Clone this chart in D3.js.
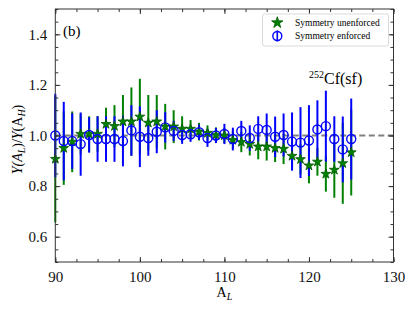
<!DOCTYPE html>
<html>
<head>
<meta charset="utf-8">
<script src="https://cdn.jsdelivr.net/npm/d3@7"></script>
<style>
  body { margin: 0; background: #fff; }
  text { font-family: "Liberation Serif", "Times New Roman", serif; }
</style>
</head>
<body>
<script>
// data
const massL = [90, 91, 92, 93, 94, 95, 96, 97, 98, 99, 100, 101, 102, 103, 104, 105, 106, 107,
  108, 109, 110, 111, 112, 113, 114, 115, 116, 117, 118, 119, 120, 121, 122, 123, 124, 125];

// Symmetry unenforced (green stars)
const unenfY = [0.907, 0.95, 0.975, 1.006, 1.006, 1.006, 1.045, 1.037, 1.055, 1.055, 1.074, 1.05,
  1.055, 1.035, 1.035, 1.026, 1.026, 1.015, 1.01, 1.002, 1.0, 0.982, 0.974, 0.966, 0.956, 0.956,
  0.95, 0.947, 0.919, 0.906, 0.881, 0.896, 0.848, 0.864, 0.89, 0.933];
const unenfErr = [0.25, 0.145, 0.12, 0.08, 0.07, 0.07, 0.065, 0.083, 0.105, 0.135, 0.15, 0.11,
  0.105, 0.09, 0.065, 0.05, 0.035, 0.035, 0.03, 0.03, 0.03, 0.035, 0.04, 0.045, 0.05, 0.055,
  0.055, 0.06, 0.055, 0.06, 0.07, 0.055, 0.07, 0.11, 0.16, 0.17];

// Symmetry enforced (blue circles)
const enfY = [1.0, 0.978, 0.978, 0.966, 1.002, 0.986, 0.986, 0.986, 0.978, 1.02, 0.995, 0.99,
  1.015, 1.032, 1.018, 1.002, 1.005, 1.013, 0.99, 1.0, 1.006, 0.986, 1.018, 0.99, 1.026, 1.022,
  0.995, 1.002, 0.976, 0.972, 0.98, 1.024, 1.037, 0.986, 0.945, 0.986];
const enfErr = [0.165, 0.155, 0.11, 0.125, 0.07, 0.09, 0.09, 0.09, 0.1, 0.1, 0.12, 0.07,
  0.085, 0.06, 0.04, 0.035, 0.03, 0.03, 0.035, 0.03, 0.04, 0.045, 0.04, 0.05, 0.05, 0.065,
  0.08, 0.085, 0.115, 0.14, 0.14, 0.115, 0.14, 0.09, 0.13, 0.16];

const xTicks = [90, 100, 110, 120, 130];
const yTicks = [0.6, 0.8, 1.0, 1.2, 1.4];
const legendNames = ["Symmetry unenforced", "Symmetry enforced"];

const width = 415, height = 312;
const mLeft = 55.3, mRight = 393.5, mTop = 9, mBottom = 262;
const green = "#008000", blue = "#0000ff";

const svg = d3.select("body").append("svg")
  .attr("width", width)
  .attr("height", height);

const x = d3.scaleLinear().domain([90, 130]).range([mLeft, mRight]);
const y = d3.scaleLinear().domain([0.5, 1.5]).range([mBottom, mTop]);

const minorX = d3.range(90, 130.01, 2.5);
const minorY = d3.range(0.5, 1.501, 0.05);

// dashed reference line at 1
svg.append("line")
  .attr("x1", x(90)).attr("x2", x(130))
  .attr("y1", y(1)).attr("y2", y(1))
  .attr("stroke", "#808080")
  .attr("stroke-width", 2)
  .attr("stroke-dasharray", "6,3.5");

const rows = massL.map((a, i) => ({a, gy: unenfY[i], ge: unenfErr[i], by: enfY[i], be: enfErr[i]}));

// error bars: green first, blue over it
svg.append("g").selectAll("line").data(rows).join("line")
  .attr("x1", d => x(d.a)).attr("x2", d => x(d.a))
  .attr("y1", d => y(d.gy - d.ge)).attr("y2", d => y(d.gy + d.ge))
  .attr("stroke", green).attr("stroke-width", 2);

svg.append("g").selectAll("line").data(rows).join("line")
  .attr("x1", d => x(d.a)).attr("x2", d => x(d.a))
  .attr("y1", d => y(d.by - d.be)).attr("y2", d => y(d.by + d.be))
  .attr("stroke", blue).attr("stroke-width", 2);

const star = d3.symbol().type(d3.symbolStar).size(30);

svg.append("g").selectAll("path").data(rows).join("path")
  .attr("d", star)
  .attr("transform", d => `translate(${x(d.a)},${y(d.gy)})`)
  .attr("fill", green)
  .attr("stroke", "#005a00")
  .attr("stroke-width", 0.8);

svg.append("g").selectAll("circle").data(rows).join("circle")
  .attr("cx", d => x(d.a)).attr("cy", d => y(d.by))
  .attr("r", 4.5)
  .attr("fill", "none")
  .attr("stroke", blue)
  .attr("stroke-width", 1.4);

// axes, ticks inward on all four sides
const axisColor = "#333";
const styleAxis = g => {
  g.select(".domain").remove();
  g.selectAll("line").attr("stroke", axisColor);
  g.selectAll("text").attr("font-size", 15).attr("fill", "#111")
    .attr("font-family", "Liberation Serif, serif");
};

svg.append("g").attr("transform", `translate(0,${mBottom})`)
  .call(d3.axisBottom(x).tickValues(xTicks).tickSize(-5).tickPadding(9).tickFormat(d3.format("d")))
  .call(styleAxis);
svg.append("g").attr("transform", `translate(0,${mBottom})`)
  .call(d3.axisBottom(x).tickValues(minorX).tickSize(-3).tickFormat(""))
  .call(styleAxis);
svg.append("g").attr("transform", `translate(0,${mTop})`)
  .call(d3.axisTop(x).tickValues(xTicks).tickSize(-5).tickFormat(""))
  .call(styleAxis);
svg.append("g").attr("transform", `translate(0,${mTop})`)
  .call(d3.axisTop(x).tickValues(minorX).tickSize(-3).tickFormat(""))
  .call(styleAxis);

svg.append("g").attr("transform", `translate(${mLeft},0)`)
  .call(d3.axisLeft(y).tickValues(yTicks).tickSize(-5).tickPadding(8).tickFormat(d3.format(".1f")))
  .call(styleAxis);
svg.append("g").attr("transform", `translate(${mLeft},0)`)
  .call(d3.axisLeft(y).tickValues(minorY).tickSize(-3).tickFormat(""))
  .call(styleAxis);
svg.append("g").attr("transform", `translate(${mRight},0)`)
  .call(d3.axisRight(y).tickValues(yTicks).tickSize(-5).tickFormat(""))
  .call(styleAxis);
svg.append("g").attr("transform", `translate(${mRight},0)`)
  .call(d3.axisRight(y).tickValues(minorY).tickSize(-3).tickFormat(""))
  .call(styleAxis);

// frame
svg.append("rect")
  .attr("x", mLeft).attr("y", mTop)
  .attr("width", mRight - mLeft).attr("height", mBottom - mTop)
  .attr("fill", "none")
  .attr("stroke", axisColor)
  .attr("stroke-width", 1);

// axis labels
const xl = svg.append("text")
  .attr("x", (mLeft + mRight) / 2).attr("y", 297)
  .attr("text-anchor", "middle")
  .attr("font-size", 14);
xl.append("tspan").text("A");
xl.append("tspan").text("L").attr("font-style", "italic").attr("font-size", 10).attr("dy", 3);

const yl = svg.append("text")
  .attr("transform", `translate(22,${(mTop + mBottom) / 2 + 4}) rotate(-90)`)
  .attr("text-anchor", "middle")
  .attr("font-size", 14);
yl.append("tspan").text("Y(A").attr("font-style", "italic");
yl.append("tspan").text("L").attr("font-style", "italic").attr("font-size", 10).attr("dy", 3);
yl.append("tspan").text(")/").attr("dy", -3);
yl.append("tspan").text("Y").attr("font-style", "italic");
yl.append("tspan").text("(A");
yl.append("tspan").text("H").attr("font-style", "italic").attr("font-size", 10).attr("dy", 3);
yl.append("tspan").text(")").attr("dy", -3);

// panel tag and reaction
svg.append("text").attr("x", 63).attr("y", 36).attr("font-size", 15).text("(b)");

const re = svg.append("text").attr("x", 309).attr("y", 84).attr("font-size", 16);
re.append("tspan").text("252").attr("font-size", 10).attr("dy", -6);
re.append("tspan").text("Cf(sf)").attr("dy", 6);

// legend
const lg = svg.append("g");
lg.append("rect")
  .attr("x", 262.5).attr("y", 14)
  .attr("width", 126).attr("height", 32)
  .attr("rx", 2)
  .attr("fill", "#fff")
  .attr("stroke", "#d0d0d0")
  .attr("stroke-width", 0.8);

lg.append("path")
  .attr("d", d3.symbol().type(d3.symbolStar).size(40))
  .attr("transform", "translate(277.3,22.7)")
  .attr("fill", green)
  .attr("stroke", "#005a00")
  .attr("stroke-width", 0.8);
lg.append("line")
  .attr("x1", 277.3).attr("x2", 277.3).attr("y1", 30.5).attr("y2", 41.5)
  .attr("stroke", blue).attr("stroke-width", 1.6);
lg.append("circle")
  .attr("cx", 277.3).attr("cy", 36)
  .attr("r", 4.5)
  .attr("fill", "none")
  .attr("stroke", blue)
  .attr("stroke-width", 1.4);

lg.selectAll("text.lab").data(legendNames).join("text")
  .attr("class", "lab")
  .attr("x", 295)
  .attr("y", (d, i) => 25.5 + i * 13.5)
  .attr("font-size", 9.5)
  .text(d => d);
</script>
</body>
</html>
